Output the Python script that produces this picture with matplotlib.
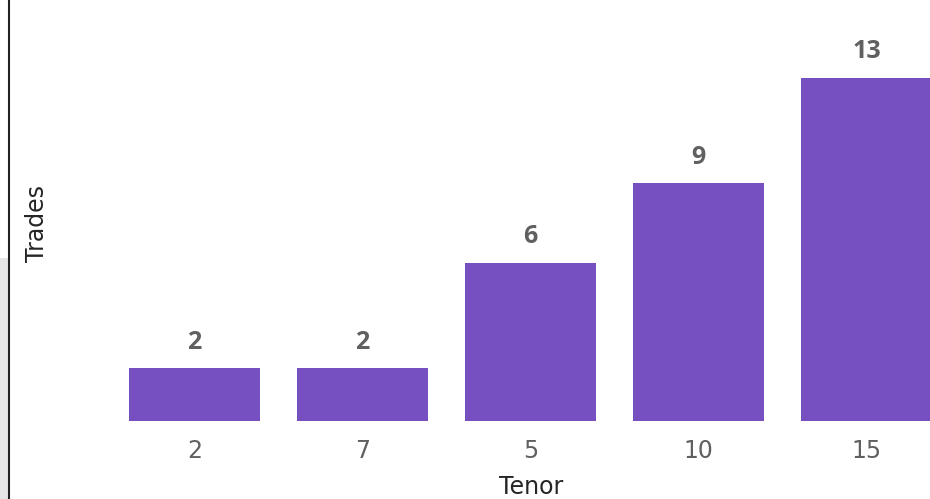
import matplotlib
matplotlib.use('Agg')
import matplotlib.pyplot as plt
from matplotlib.patches import Rectangle
from matplotlib.lines import Line2D

TENORS = ['2', '7', '5', '10', '15']
TRADES = [2, 2, 6, 9, 13]

BAR_COLOR = '#7650c0'
LABEL_GREY = '#606060'

W, H = 930, 499
fig = plt.figure(figsize=(W / 100, H / 100), dpi=100, facecolor='white')

# screenshot edge: grey strip + black frame line at the left
fig.patches.append(Rectangle((0, 0), 8 / W, (H - 258) / H, transform=fig.transFigure,
                             facecolor='#e6e6e6', edgecolor='none', zorder=0))
fig.lines.append(Line2D([8.5 / W, 8.5 / W], [0, 1], transform=fig.transFigure,
                        color='#222222', lw=1.5))

# axes placed in pixel terms; the right side runs past the crop like the original
px_per_cat = 168.1
left = 194.5 - px_per_cat / 2
ax = fig.add_axes([left / W, (H - 421) / H, 5 * px_per_cat / W, 421 / H])
ax.set_facecolor('none')

xs = range(len(TENORS))
ax.bar(xs, TRADES, width=0.78, color=BAR_COLOR)
ax.set_xlim(-0.5, 4.5)
ax.set_ylim(0, 421 / 26.4)

for x, v in zip(xs, TRADES):
    ax.annotate(str(v), (x, v), xytext=(0, 26), textcoords='offset pixels',
                ha='center', va='center', fontsize=18, fontweight='bold',
                color=LABEL_GREY, family='Open Sans')

ax.set_xticks(list(xs))
ax.set_xticklabels(TENORS, fontsize=17, color=LABEL_GREY, family='DejaVu Sans')
ax.tick_params(axis='x', length=0, pad=13)
ax.set_yticks([])
for s in ax.spines.values():
    s.set_visible(False)

fig.text(531 / W, 1 - 487 / H, 'Tenor', ha='center', va='center',
         fontsize=17, color='#252525', family='DejaVu Sans')
fig.text(37 / W, 1 - 224 / H, 'Trades', ha='center', va='center', rotation=90,
         fontsize=17, color='#252525', family='DejaVu Sans')

fig.savefig('out.png', dpi=100, facecolor='white')
